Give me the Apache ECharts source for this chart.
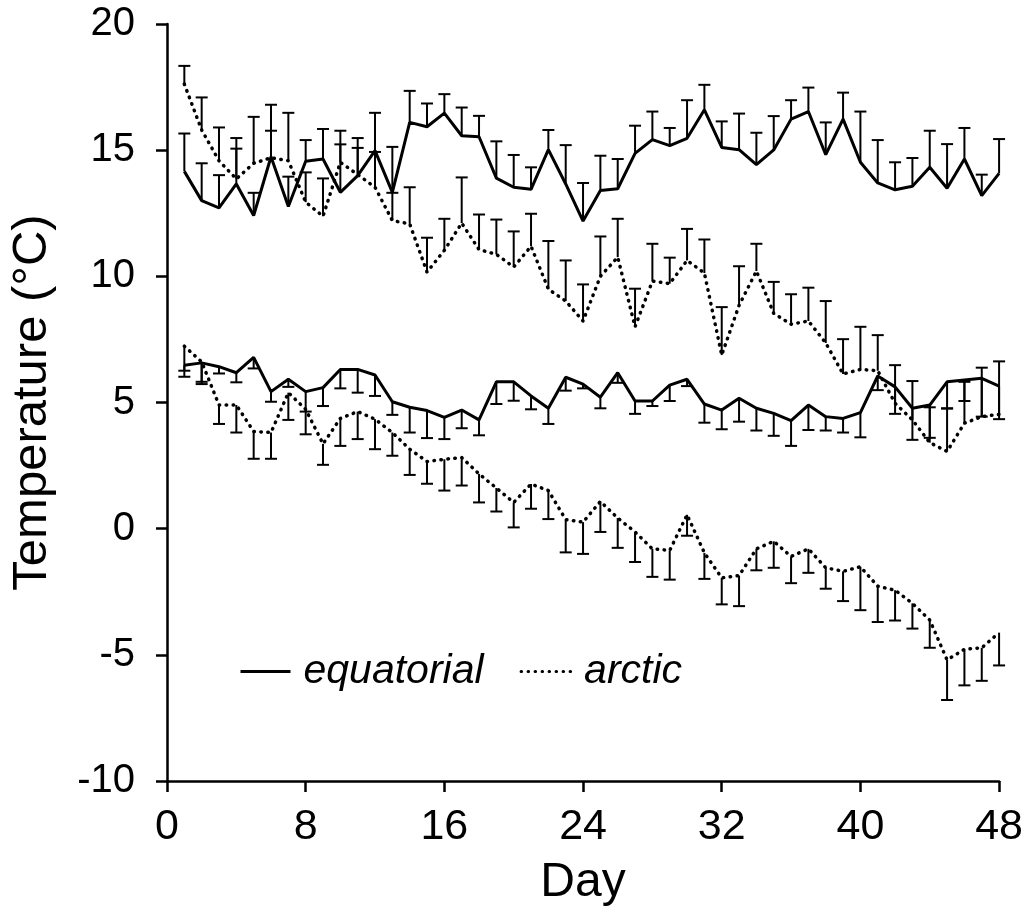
<!DOCTYPE html>
<html>
<head>
<meta charset="utf-8">
<script src="https://cdn.jsdelivr.net/npm/echarts@6/dist/echarts.min.js"></script>
<style>
  html, body { margin: 0; padding: 0; background: #fff; }
  #chart { width: 1026px; height: 924px; }
</style>
</head>
<body>
<div id="chart"></div>
<script>
// days of measurement
const days = [1,2,3,4,5,6,7,8,9,10,11,12,13,14,15,16,17,18,19,20,21,22,23,24,
  25,26,27,28,29,30,31,32,33,34,35,36,37,38,39,40,41,42,43,44,45,46,47,48];

// upper pair (error bars drawn upward)
const eqHigh = [14.16,13.0,12.71,13.66,12.41,14.74,12.77,14.56,14.65,13.33,13.99,14.98,
  13.33,16.1,15.93,16.47,15.57,15.53,13.89,13.53,13.45,15.02,13.66,12.19,
  13.4,13.47,14.87,15.42,15.18,15.47,16.6,15.11,15.02,14.43,15.01,16.23,
  16.53,14.82,16.23,14.52,13.7,13.43,13.57,14.32,13.49,14.65,13.2,14.08];
const eqHighErr = [1.5,1.48,1.3,1.82,0.9,2.06,1.18,0.84,1.19,1.9,1.1,1.5,
  1.8,1.25,0.92,0.75,1.12,0.83,1.46,1.28,0.87,0.78,1.54,1.51,
  1.38,1.18,1.1,1.11,0.7,1.51,0.99,1.03,1.43,1.26,1.34,0.75,
  0.95,1.28,1.05,2.01,1.7,1.09,1.12,1.45,1.75,1.23,0.83,1.36];
const arHigh = [17.62,15.8,14.58,13.86,14.48,14.7,14.58,12.94,12.38,14.52,14.03,13.53,
  12.21,12.08,10.17,11.03,12.11,11.06,10.87,10.37,11.19,9.49,9.02,8.23,
  10.0,10.76,8.0,9.81,9.71,10.63,10.13,6.88,8.85,10.21,8.53,8.1,
  8.23,7.36,6.13,6.31,6.26,4.97,4.31,3.41,3.06,4.18,4.44,4.53];
const arHighErr = [0.72,1.29,1.32,1.2,1.84,1.07,1.9,1.18,1.5,1.25,1.45,1.4,
  1.1,1.45,1.36,1.25,1.81,1.39,1.38,1.41,1.29,1.91,1.61,1.45,
  1.58,1.52,1.51,1.48,1.03,1.25,1.33,1.9,1.55,1.08,1.25,1.19,
  1.32,1.66,1.38,1.69,1.41,1.51,1.54,1.4,1.7,1.64,1.94,2.1];

// lower pair (error bars drawn downward)
const eqLow = [6.48,6.57,6.42,6.18,6.79,5.43,5.92,5.43,5.59,6.31,6.31,6.09,
  5.03,4.81,4.68,4.41,4.7,4.31,5.82,5.82,5.26,4.77,6.0,5.73,
  5.21,6.18,5.06,5.06,5.69,5.92,4.94,4.7,5.17,4.77,4.57,4.28,
  4.9,4.44,4.37,4.6,6.05,5.62,4.77,4.9,5.82,5.89,5.96,5.65];
const eqLowErr = [0.46,0.84,0.27,0.38,0.44,0.4,0.3,0.79,0.73,0.75,0.92,0.83,
  0.52,1.0,1.09,0.86,0.72,0.61,0.88,0.75,0.53,0.62,0.53,0.17,
  0.44,0.4,0.51,0.2,0.63,0.27,0.74,0.76,0.93,0.88,0.89,1.0,
  0.99,0.55,0.56,0.98,0.56,1.07,1.25,1.3,1.05,0.83,1.52,1.31];
const arLow = [7.23,6.61,4.9,4.9,3.85,3.81,5.39,4.73,3.36,4.37,4.64,4.34,
  3.81,3.15,2.66,2.75,2.82,2.17,1.61,1.04,1.77,1.51,0.36,0.26,
  1.08,0.42,-0.13,-0.8,-0.86,0.55,-0.96,-1.95,-1.86,-0.8,-0.5,-1.1,
  -0.8,-1.55,-1.69,-1.51,-2.28,-2.44,-2.96,-3.62,-5.2,-4.78,-4.72,-4.12];
const arLowErr = [0.97,0.79,0.75,1.09,1.08,1.04,1.08,0.99,0.83,1.09,1.09,1.19,
  0.92,1.02,0.88,1.24,1.11,1.13,0.93,0.99,0.98,1.13,1.3,1.26,
  1.21,1.18,1.19,1.11,1.16,0.83,1.03,1.05,1.21,0.85,1.05,1.06,
  0.95,0.83,1.18,1.72,1.42,1.2,1.0,1.1,1.59,1.43,1.31,1.3];

const xTicks = [0, 48, 8];   // min, max, step
const yTicks = [-10, 20, 5];

const font = 'Liberation Sans, Arial, Helvetica, sans-serif';
const myChart = echarts.init(document.getElementById('chart'));

function pairs(vals) {
  return days.map((d, i) => [d, vals[i]]);
}
function errData(vals, errs) {
  return days.map((d, i) => [d, vals[i], errs[i]]);
}
// one sided error bar with a cap, dir = 1 up, -1 down
function errRender(dir) {
  return function (params, api) {
    const x = api.value(0), y = api.value(1), e = api.value(2);
    const p0 = api.coord([x, y]);
    const p1 = api.coord([x, y + dir * e]);
    const hw = 6;
    return {
      type: 'group',
      children: [
        { type: 'line', shape: { x1: p0[0], y1: p0[1], x2: p1[0], y2: p1[1] },
          style: { stroke: '#000', lineWidth: 2 } },
        { type: 'line', shape: { x1: p1[0] - hw, y1: p1[1], x2: p1[0] + hw, y2: p1[1] },
          style: { stroke: '#000', lineWidth: 2 } }
      ]
    };
  };
}

const solid = { color: '#000', width: 3, type: 'solid' };
const dotted = { color: '#000', width: 3.5, type: [0.5, 6.5], cap: 'round' };

const option = {
  animation: false,
  backgroundColor: '#fff',
  textStyle: { fontFamily: font, color: '#000' },
  grid: { left: 162, right: 22, top: 24, bottom: 143 },
  legend: {
    data: ['equatorial', 'arctic'],
    left: 234, top: 646,
    itemWidth: 50, itemHeight: 14, itemGap: 36,
    itemStyle: { opacity: 0 },
    lineStyle: { width: 3 },
    textStyle: { fontSize: 41, fontStyle: 'italic', color: '#000', fontFamily: font, padding: [0, 0, 0, 8] }
  },
  xAxis: {
    type: 'value', min: xTicks[0], max: xTicks[1], interval: xTicks[2],
    name: 'Day', nameLocation: 'middle', nameGap: 78,
    nameTextStyle: { fontSize: 48, fontFamily: font, color: '#000' },
    axisLine: { onZero: false, lineStyle: { color: '#000', width: 2.5 } },
    axisTick: { length: 11, lineStyle: { color: '#000', width: 2.5 } },
    axisLabel: { fontSize: 43, margin: 25, color: '#000', fontFamily: font },
    splitLine: { show: false }
  },
  yAxis: {
    type: 'value', min: yTicks[0], max: yTicks[1], interval: yTicks[2],
    name: 'Temperature (°C)', nameLocation: 'middle', nameGap: 110, nameRotate: 90,
    nameTextStyle: { fontSize: 49, fontFamily: font, color: '#000' },
    axisLine: { show: true, onZero: false, lineStyle: { color: '#000', width: 2.5 } },
    axisTick: { show: true, length: 11, lineStyle: { color: '#000', width: 2.5 } },
    axisLabel: { fontSize: 40, margin: 32, color: '#000', fontFamily: font },
    splitLine: { show: false }
  },
  series: [
    { name: 'equatorial', type: 'line', data: pairs(eqHigh), symbol: 'none', itemStyle: { color: '#000' }, lineStyle: solid, z: 3 },
    { name: 'arctic', type: 'line', data: pairs(arHigh), symbol: 'none', itemStyle: { color: '#000' }, lineStyle: dotted, z: 3 },
    { name: 'equatorial', type: 'line', data: pairs(eqLow), symbol: 'none', itemStyle: { color: '#000' }, lineStyle: solid, z: 3 },
    { name: 'arctic', type: 'line', data: pairs(arLow), symbol: 'none', itemStyle: { color: '#000' }, lineStyle: dotted, z: 3 },
    { type: 'custom', renderItem: errRender(1), data: errData(eqHigh, eqHighErr), z: 2 },
    { type: 'custom', renderItem: errRender(1), data: errData(arHigh, arHighErr), z: 2 },
    { type: 'custom', renderItem: errRender(-1), data: errData(eqLow, eqLowErr), z: 2 },
    { type: 'custom', renderItem: errRender(-1), data: errData(arLow, arLowErr), z: 2 }
  ]
};
myChart.setOption(option);
</script>
</body>
</html>
